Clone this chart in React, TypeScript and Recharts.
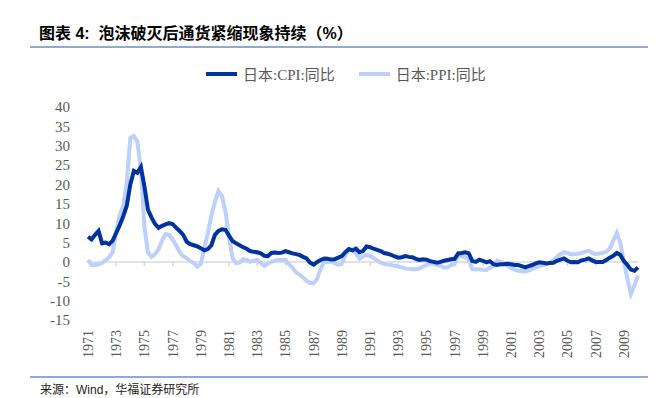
import React from 'react'
import { LineChart, Line, XAxis, YAxis, ReferenceLine, Legend } from 'recharts'

// quarterly readings, first point = Q1 1971
const startYear = 1971
const seriesNames = ['日本:CPI:同比', '日本:PPI:同比']

const cpi = [
  6.5, 5.8, 7.0, 8.0, 4.8, 5.0, 4.6, 5.5, 7.5, 9.5, 11.8, 14.5,
  20.0, 23.5, 23.0, 24.5, 19.5, 13.5, 11.5, 9.8, 8.8, 9.3, 9.7, 10.0,
  9.8, 8.8, 8.0, 7.0, 5.2, 4.6, 4.3, 4.0, 3.5, 3.0, 3.3, 4.3,
  7.0, 8.0, 8.4, 8.3, 6.8, 5.4, 4.8, 4.3, 3.8, 3.4, 2.8, 2.6,
  2.5, 2.2, 1.6, 1.5, 2.3, 2.4, 2.3, 2.4, 2.8, 2.5, 2.2, 2.0,
  1.8, 1.3, 0.9, -0.2, -0.7, 0.0, 0.5, 0.9, 0.8, 0.6, 0.7, 1.1,
  1.5, 2.5, 3.3, 3.0, 3.4, 2.5, 2.8, 4.0, 3.8, 3.4, 3.1, 2.8,
  2.3, 2.1, 1.8, 1.4, 1.1, 1.2, 1.5, 1.3, 1.2, 0.8, 0.5, 0.7,
  0.6, 0.2, 0.0, -0.2, 0.0, 0.3, 0.5, 0.7, 0.8, 2.2, 2.3, 2.5,
  2.2, 0.2, 0.0, 0.6, 0.3, -0.1, 0.2, -0.6, -0.8, -0.6, -0.6, -0.5,
  -0.6, -0.8, -0.8, -1.1, -1.4, -1.1, -0.8, -0.4, -0.1, -0.2, -0.4, -0.3,
  -0.2, 0.3, 0.6, 0.9, 0.3, -0.1, 0.0, -0.1, 0.4, 0.6, 0.9, 0.4,
  0.0, 0.0, 0.0, 0.5, 1.1, 1.6, 2.3, 1.8, 0.2, -0.8, -2.0, -2.3,
  -1.4,
]

const ppi = [
  0.5, -0.8, -0.8, -0.6, -0.3, 0.5, 1.2, 2.5, 8.0, 12.0, 14.5, 20.5,
  32.0, 32.5, 31.0, 24.0, 9.0, 2.5, 1.3, 2.0, 3.2, 5.5, 7.2, 7.0,
  5.8, 4.3, 2.5, 1.5, 0.9, 0.2, -0.3, -1.2, -0.5, 3.5, 7.5, 12.0,
  15.5, 18.3, 17.0, 13.0, 6.5, 1.0, -0.3, -0.2, 0.7, 0.5, 0.0, 0.3,
  0.5, -0.3, -1.0, -0.5, 0.0, 0.3, 0.5, 0.5, 0.5, -0.6, -1.5, -2.7,
  -3.3, -4.0, -4.9, -5.4, -5.5, -4.3, -1.8, 0.0, 0.0, 0.0, -0.3, -0.7,
  -0.5, 1.8, 3.2, 3.0, 2.2, 0.8, 1.5, 1.8, 1.6, 1.0, 0.4, -0.2,
  -0.5, -0.7, -0.8, -1.0, -1.2, -1.4, -1.7, -1.8, -1.9, -1.9, -1.7, -1.2,
  -0.8, -0.5, -0.5, -0.8, -1.0, -1.5, -1.4, -0.8, -0.5, 1.5, 1.5, 1.2,
  0.5, -1.9, -1.9, -1.9, -2.0, -2.1, -1.5, -1.0, 0.3, 0.0, -0.4, -1.0,
  -1.6, -2.0, -2.3, -2.4, -2.5, -2.2, -1.8, -1.4, -1.1, -0.8, -0.6, -0.1,
  0.4, 1.3, 2.0, 2.5, 2.3, 2.0, 2.0, 2.1, 2.3, 2.6, 2.9, 2.3,
  2.0, 2.2, 2.3, 2.6, 3.5, 5.5, 7.5, 4.8, 0.0, -4.5, -8.3, -6.0,
  -3.5,
]

const xTicks = [1971, 1973, 1975, 1977, 1979, 1981, 1983, 1985, 1987, 1989, 1991, 1993, 1995, 1997, 1999, 2001, 2003, 2005, 2007, 2009]
const yTicks = [-15, -10, -5, 0, 5, 10, 15, 20, 25, 30, 35, 40]

const data = cpi.map((v, i) => ({ t: startYear + i / 4, cpi: v, ppi: ppi[i] }))

const CPI_COLOR = '#0033a0'
const PPI_COLOR = '#bdd0fb'
const AXIS_GREY = '#d9d9d9'
const LABEL = '#595959'
const SERIF = "'Liberation Serif', 'Times New Roman', 'Noto Sans CJK SC', serif"
const SANS = "'Liberation Sans', 'Noto Sans CJK SC', sans-serif"

const YearTick = ({ x, y, payload }: any) => (
  <g transform={`translate(${x},${y})`}>
    <text transform="rotate(-90)" textAnchor="end" dy="0.35em" fill={LABEL} fontSize={14} fontFamily={SERIF}>
      {payload.value}
    </text>
  </g>
)

const LegendRow = ({ payload }: any) => {
  const items = [...(payload || [])].sort((a, b) => (a.value > b.value ? 1 : -1))
  return (
    <div style={{ display: 'flex', alignItems: 'center', fontFamily: SERIF, fontSize: 15, color: LABEL, whiteSpace: 'nowrap' }}>
      {items.map((it: any, i: number) => (
        <div key={it.value} style={{ display: 'flex', alignItems: 'center', marginLeft: i ? 24 : 0 }}>
          <span style={{ display: 'inline-block', width: 31, height: 4, background: it.color, marginRight: 6 }} />
          <span>{it.value}</span>
        </div>
      ))}
    </div>
  )
}

export default function App() {
  return (
    <div style={{ position: 'absolute', left: 0, top: 0, width: 655, height: 398, background: '#fff' }}>
      <div style={{ position: 'absolute', left: 39, top: 20, fontFamily: SANS, fontWeight: 'bold', fontSize: 16, color: '#000', whiteSpace: 'nowrap' }}>
        图表 4:&nbsp;&nbsp;泡沫破灭后通货紧缩现象持续（%）
      </div>
      <div style={{ position: 'absolute', left: 30, top: 46, width: 618, height: 2, background: '#8eaad8' }} />

      <div style={{ position: 'absolute', left: 0, top: 0 }}>
        <LineChart width={655} height={398} data={data} margin={{ top: 107, right: 17, bottom: 28, left: 58 }}>
          <XAxis
            dataKey="t"
            type="number"
            domain={[1971, 2010]}
            ticks={xTicks}
            interval={0}
            axisLine={false}
            tickLine={false}
            tickSize={0}
            tickMargin={10}
            height={50}
            tick={<YearTick />}
          />
          <YAxis
            type="number"
            domain={[-15, 40]}
            ticks={yTicks}
            interval={0}
            axisLine={false}
            tickLine={false}
            tickSize={0}
            tickMargin={18}
            width={30}
            tick={{ fill: LABEL, fontSize: 15, fontFamily: SERIF }}
          />
          <ReferenceLine y={0} stroke={AXIS_GREY} strokeWidth={1.5} />
          {xTicks.slice(1).map((yr) => (
            <ReferenceLine key={yr} segment={[{ x: yr, y: 0 }, { x: yr, y: -1.1 }]} stroke={AXIS_GREY} strokeWidth={1.5} />
          ))}
          <Legend
            verticalAlign="middle"
            align="center"
            layout="horizontal"
            wrapperStyle={{ top: 63, left: 206, width: 'auto' }}
            content={<LegendRow />}
          />
          <Line type="linear" dataKey="ppi" name={seriesNames[1]} stroke={PPI_COLOR} strokeWidth={4} dot={false} isAnimationActive={false} />
          <Line type="linear" dataKey="cpi" name={seriesNames[0]} stroke={CPI_COLOR} strokeWidth={4} dot={false} isAnimationActive={false} />
        </LineChart>
      </div>

      <div style={{ position: 'absolute', left: 30, top: 376, width: 618, height: 1.5, background: '#8eaad8' }} />
      <div style={{ position: 'absolute', left: 40, top: 380, fontFamily: SANS, fontSize: 12, color: '#222', whiteSpace: 'nowrap' }}>
        来源：Wind，华福证券研究所
      </div>
    </div>
  )
}
